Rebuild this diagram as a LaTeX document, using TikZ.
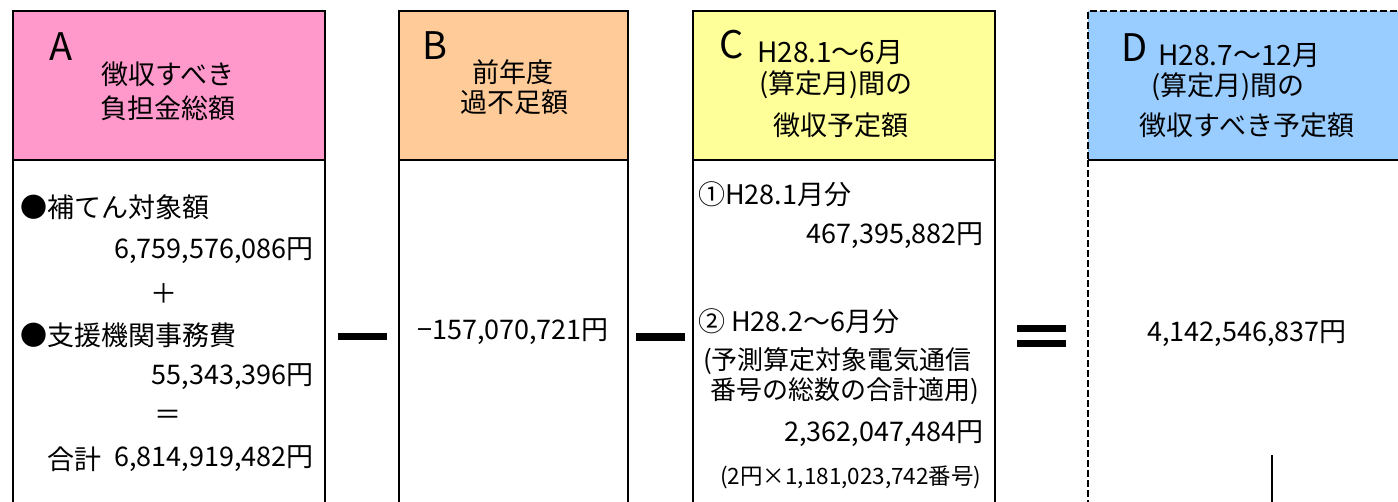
\documentclass[tikz,border=0pt]{standalone}
\usepackage{fontspec}
\setmainfont{Noto Sans CJK JP}
\usetikzlibrary{positioning}
\definecolor{hdrpink}{HTML}{FF99CC}
\definecolor{hdrorange}{HTML}{FFCC99}
\definecolor{hdryellow}{HTML}{FFFF99}
\definecolor{hdrblue}{HTML}{99CCFF}

\begin{document}
\begin{tikzpicture}[x=1pt, y=-1pt,
        frame/.style = {draw = black, line width = 2pt, inner sep = 0pt,
            outer sep = 0pt, anchor = north west},
        hdr/.style = {frame, minimum height = 149pt},
        body/.style = {frame, minimum height = 380pt},
        dline/.style = {dash pattern = on 7pt off 3pt},
        txt/.style = {inner sep = 0pt, font = \fontsize{27}{30}\selectfont},
        period/.style = {txt, anchor = west, font = \fontsize{28}{30}\selectfont},
        letter/.style = {inner sep = 0pt, font = \fontsize{38}{40}\selectfont},
        note/.style = {inner sep = 0pt, font = \fontsize{22.5}{24}\selectfont},
        opbar/.style = {fill = black, inner sep = 0pt, minimum width = 49pt,
            minimum height = 7.5pt}]
    \useasboundingbox (0,0) rectangle (1398,501);
    % columns A, B, C
    \foreach \n/\l/\w/\col in {A/13/312/hdrpink, B/399/229/hdrorange, C/693/302/hdryellow}
        {
        \node[hdr, fill = \col, minimum width = \w pt] (h\n) at (\l,11) {};
        \node[body, minimum width = \w pt] (b\n) at (h\n.south west) {};
        }
    % column D
    \node[hdr, fill = hdrblue, dline, minimum width = 330pt] (hD) at (1088,11) {};
    \draw[line width = 2pt] (hD.south west) -- (hD.south east);
    \coordinate (dfoot) at (1088,520);
    \draw[line width = 2pt, dline] (hD.south west) -- (dfoot);

    % headers
    \node[letter] (lA) at (61,47) {A};
    \node[txt] (tA1) at (168,74) {徴収すべき};
    \node[txt] (tA2) at (168,108) {負担金総額};
    \node[letter] (lB) at (435,46) {B};
    \node[txt] (tB1) at (513,72) {前年度};
    \node[txt] (tB2) at (514,102) {過不足額};
    \node[letter] (lC) at (732,45) {C};
    \node[period] (tC1) at (757,53) {H28.1～6月};
    \node[txt] (tC2) at (836,85) {(算定月)間の};
    \node[txt] (tC3) at (841,125) {徴収予定額};
    \node[letter] (lD) at (1135,48) {D};
    \node[period] (tD1) at (1158,56) {H28.7～12月};
    \node[txt] (tD2) at (1228,87) {(算定月)間の};
    \node[txt] (tD3) at (1247,125) {徴収すべき予定額};

    % A body
    \node[txt, anchor = west] (a1) at (20,207) {●補てん対象額};
    \node[txt, anchor = east] (a2) at (314,251) {6,759,576,086円};
    \node[txt] (a3) at (164,294) {＋};
    \node[txt, anchor = west] (a4) at (20,335) {●支援機関事務費};
    \node[txt, anchor = east] (a5) at (314,377) {55,343,396円};
    \node[txt] (a6) at (168,417) {＝};
    \node[txt, anchor = west] (a7) at (47,459) {合計};
    \node[txt, anchor = east] (a8) at (314,459) {6,814,919,482円};

    % B body
    \node[txt] (b1) at (513,332) {−157,070,721円};

    % C body
    \node[txt, anchor = west] (c1) at (698,194) {①H28.1月分};
    \node[txt, anchor = east] (c2) at (984,236) {467,395,882円};
    \node[txt, anchor = west] (c3) at (698,321) {② H28.2～6月分};
    \node[txt, anchor = west, font = \fontsize{26}{30}\selectfont] (c4) at (703,361) {(予測算定対象電気通信};
    \node[txt, anchor = west, font = \fontsize{26}{30}\selectfont] (c5) at (710,391) {番号の総数の合計適用)};
    \node[txt, anchor = east] (c6) at (984,434) {2,362,047,484円};
    \node[note, anchor = west] (c7) at (720,477) {(2円×1,181,023,742番号)};

    % D body
    \node[txt] (d1) at (1247,334) {4,142,546,837円};

    % operators
    \node[opbar] (minus1) at (362.5,336.5) {};
    \node[opbar] (minus2) at (660,337) {};
    \node[opbar] (eq1) at (1041,328.5) {};
    \node[opbar, below = 7pt of eq1] (eq2) {};

    \coordinate (tick) at (1272,455);
    \draw[line width = 2.5pt] (tick) -- ++(0,60);
\end{tikzpicture}
\end{document}
